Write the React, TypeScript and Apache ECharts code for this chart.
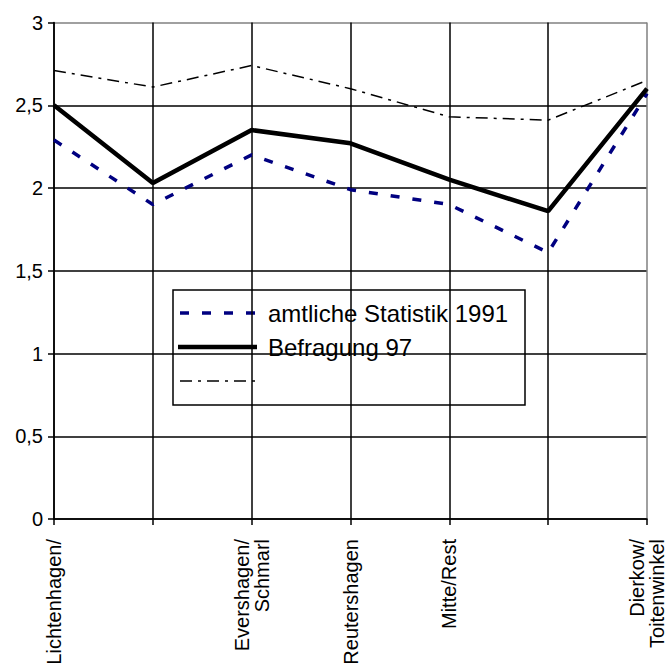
import React, { useEffect, useRef } from "react";
import * as echarts from "echarts";

const categories = [
  "Lichtenhagen/",
  "",
  "Evershagen/\nSchmarl",
  "Reutershagen",
  "Mitte/Rest",
  "",
  "Dierkow/\nToitenwinkel",
];
const yTicks = [0, 0.5, 1, 1.5, 2, 2.5, 3];
const amtlicheStatistik1991 = [2.29, 1.9, 2.2, 1.99, 1.9, 1.61, 2.57];
const befragung97 = [2.5, 2.03, 2.35, 2.27, 2.05, 1.86, 2.6];
const dritteReihe = [2.71, 2.61, 2.74, 2.6, 2.43, 2.41, 2.65];
const legendLabels = ["amtliche Statistik 1991", "Befragung 97", ""];

const FONT = "'Liberation Sans', Arial, sans-serif";
const GRID_BLACK = "#000000";
const BORDER_GREY = "#808080";

// grid lines are black, the last one (top / right plot border) is grey
const xSplitColors = categories.map((_, i) => (i === categories.length - 1 ? BORDER_GREY : GRID_BLACK));
const ySplitColors = yTicks.map((_, i) => (i === yTicks.length - 1 ? BORDER_GREY : GRID_BLACK));

export default function App() {
  const ref = useRef<HTMLDivElement>(null);

  useEffect(() => {
    if (!ref.current) return;
    const chart = echarts.init(ref.current, null, { renderer: "svg" });

    const rowY = [313, 347, 381];

    chart.setOption({
      animation: false,
      backgroundColor: "#ffffff",
      textStyle: { fontFamily: FONT },
      grid: {
        left: 54,
        right: 24,
        top: 22.5,
        bottom: 147,
        containLabel: false,
        outerBoundsMode: "none",
      },
      xAxis: {
        type: "category",
        data: categories,
        boundaryGap: false,
        axisLine: { show: true, lineStyle: { color: "#000", width: 1.5 } },
        axisTick: { show: true, alignWithLabel: true, length: 6, lineStyle: { color: "#000", width: 1.5 } },
        splitLine: { show: true, lineStyle: { color: xSplitColors, width: 1.5 } },
        axisLabel: {
          interval: 0,
          rotate: 90,
          margin: 20,
          color: "#000",
          fontSize: 20,
          fontFamily: FONT,
          lineHeight: 20,
        },
      },
      yAxis: {
        type: "value",
        min: yTicks[0],
        max: yTicks[yTicks.length - 1],
        interval: 0.5,
        axisLine: { show: true, lineStyle: { color: "#000", width: 1.5 } },
        axisTick: { show: true, length: 6, lineStyle: { color: "#000", width: 1.5 } },
        splitLine: { show: true, lineStyle: { color: ySplitColors, width: 1.5 } },
        axisLabel: {
          color: "#000",
          fontSize: 20,
          fontFamily: FONT,
          margin: 11,
          formatter: (v: number) => String(v).replace(".", ","),
        },
      },
      series: [
        {
          name: legendLabels[2],
          type: "line",
          data: dritteReihe,
          symbol: "none",
          z: 3,
          lineStyle: { color: "#000", width: 1.5, type: [12, 6, 3, 6] },
        },
        {
          name: legendLabels[0],
          type: "line",
          data: amtlicheStatistik1991,
          symbol: "none",
          z: 4,
          lineStyle: { color: "#000080", width: 3.5, type: [9, 13] },
        },
        {
          name: legendLabels[1],
          type: "line",
          data: befragung97,
          symbol: "none",
          z: 5,
          lineStyle: { color: "#000", width: 4.5 },
        },
      ],
      graphic: [
        {
          type: "group",
          z: 100,
          children: [
            {
              type: "rect",
              shape: { x: 173, y: 290, width: 352, height: 115 },
              style: { fill: "#fff", stroke: "#000", lineWidth: 1.5 },
            },
            {
              type: "line",
              shape: { x1: 180, y1: rowY[0], x2: 256, y2: rowY[0] },
              style: { stroke: "#000080", lineWidth: 3.5, lineDash: [9, 13] },
            },
            {
              type: "line",
              shape: { x1: 178, y1: rowY[1], x2: 257, y2: rowY[1] },
              style: { stroke: "#000", lineWidth: 4.5 },
            },
            {
              type: "line",
              shape: { x1: 180, y1: rowY[2], x2: 256, y2: rowY[2] },
              style: { stroke: "#000", lineWidth: 1.5, lineDash: [12, 6, 3, 6] },
            },
            {
              type: "text",
              x: 268,
              y: rowY[0],
              style: {
                text: legendLabels[0],
                fill: "#000",
                font: `24px ${FONT}`,
                verticalAlign: "middle",
              },
            },
            {
              type: "text",
              x: 268,
              y: rowY[1],
              style: {
                text: legendLabels[1],
                fill: "#000",
                font: `24px ${FONT}`,
                verticalAlign: "middle",
              },
            },
          ],
        },
      ],
    });

    return () => chart.dispose();
  }, []);

  return (
    <div
      ref={ref}
      style={{ position: "fixed", left: 0, top: 0, width: 671, height: 666, background: "#fff" }}
    />
  );
}
